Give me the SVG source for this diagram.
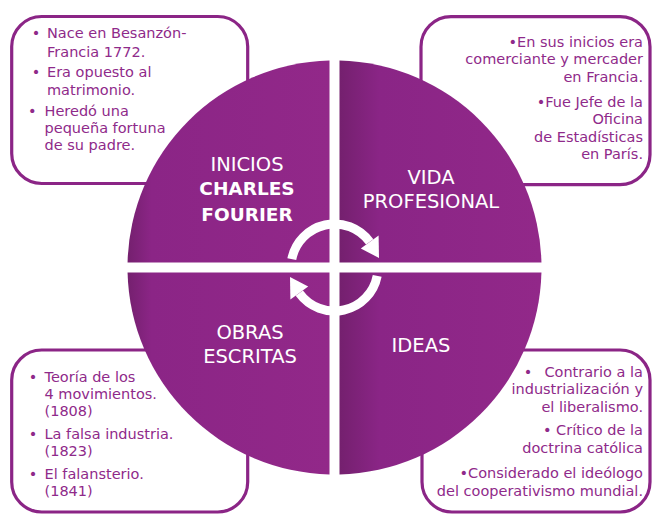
<svg xmlns="http://www.w3.org/2000/svg" width="652" height="515" viewBox="0 0 652 515">
<defs>
<linearGradient id="gL" gradientUnits="userSpaceOnUse" x1="127" y1="0" x2="330" y2="0">
<stop offset="0" stop-color="#74206e"/><stop offset="0.12" stop-color="#8b2586"/><stop offset="1" stop-color="#922889"/>
</linearGradient>
<linearGradient id="gR" gradientUnits="userSpaceOnUse" x1="339" y1="0" x2="542" y2="0">
<stop offset="0" stop-color="#74206e"/><stop offset="0.2" stop-color="#8a2586"/><stop offset="1" stop-color="#922889"/>
</linearGradient>
<style>
.box{fill:#fff;stroke:#8b2586;stroke-width:3.2}
.t{font-family:"DejaVu Sans","Noto Sans",sans-serif;font-size:14.5px;fill:#8f2a8a}
.r{text-anchor:end}
.c{font-family:"DejaVu Sans","Noto Sans",sans-serif;font-size:19.5px;fill:#fff;text-anchor:middle}
.b{font-weight:bold;font-size:18.5px}
.ring{fill:none;stroke:#fff;stroke-width:9}
</style>
</defs>
<g id="box-inicios">
<rect class="box" x="11.7" y="16.5" width="236" height="167" rx="30"/>
<text class="t" x="31.7" y="38">•</text><text class="t" x="47" y="38">Nace en Besanzón-</text>
<text class="t" x="47" y="57">Francia 1772.</text>
<text class="t" x="31.7" y="77">•</text><text class="t" x="47" y="77">Era opuesto al</text>
<text class="t" x="47" y="95">matrimonio.</text>
<text class="t" x="28" y="116">•</text><text class="t" x="44.5" y="116">Heredó una</text>
<text class="t" x="44.5" y="133">pequeña fortuna</text>
<text class="t" x="44.5" y="150">de su padre.</text>
</g>
<g id="box-vida">
<rect class="box" x="421" y="16.7" width="229" height="168" rx="30"/>
<text class="t r" x="643" y="46.5">•En sus inicios era</text>
<text class="t r" x="643" y="64">comerciante y mercader</text>
<text class="t r" x="643" y="82">en Francia.</text>
<text class="t r" x="643" y="107">•Fue Jefe de la</text>
<text class="t r" x="643" y="124">Oficina</text>
<text class="t r" x="643" y="142">de Estadísticas</text>
<text class="t r" x="643" y="159">en París.</text>
</g>
<g id="box-obras">
<rect class="box" x="11.7" y="350" width="236" height="162" rx="30"/>
<text class="t" x="28.7" y="382">•</text><text class="t" x="44.5" y="382">Teoría de los</text>
<text class="t" x="44.5" y="399">4 movimientos.</text>
<text class="t" x="44.5" y="416">(1808)</text>
<text class="t" x="28.7" y="439">•</text><text class="t" x="44.5" y="439">La falsa industria.</text>
<text class="t" x="44.5" y="456">(1823)</text>
<text class="t" x="28.7" y="479">•</text><text class="t" x="44.5" y="479">El falansterio.</text>
<text class="t" x="44.5" y="496">(1841)</text>
</g>
<g id="box-ideas">
<rect class="box" x="422" y="350" width="228" height="162" rx="30"/>
<text class="t" x="523.7" y="377">•</text><text class="t r" x="643" y="377">Contrario a la</text>
<text class="t r" x="643" y="394">industrialización y</text>
<text class="t r" x="643" y="412">el liberalismo.</text>
<text class="t r" x="643" y="435">• Crítico de la</text>
<text class="t r" x="643" y="453">doctrina católica</text>
<text class="t r" x="643" y="478">•Considerado el ideólogo</text>
<text class="t r" x="643" y="496">del cooperativismo mundial.</text>
</g>
<g id="circle">
<path d="M329.5,262.5 V60.56 A207,207 0 0 0 127.56,262.5 Z" fill="url(#gL)"/>
<path d="M339.5,262.5 H541.44 A207,207 0 0 0 339.5,60.56 Z" fill="url(#gR)"/>
<path d="M329.5,272.5 H127.56 A207,207 0 0 0 329.5,474.44 Z" fill="url(#gL)"/>
<path d="M339.5,272.5 V474.44 A207,207 0 0 0 541.44,272.5 Z" fill="url(#gR)"/>
</g>
<g id="node-inicios">
<text class="c" x="247" y="171">INICIOS</text>
<text class="c b" x="247" y="195">CHARLES</text>
<text class="c b" x="247" y="221">FOURIER</text>
</g>
<g id="node-vida">
<text class="c" x="431" y="184">VIDA</text>
<text class="c" x="431" y="208">PROFESIONAL</text>
</g>
<g id="node-obras">
<text class="c" x="250" y="339">OBRAS</text>
<text class="c" x="250" y="363">ESCRITAS</text>
</g>
<g id="node-ideas">
<text class="c" x="421" y="352">IDEAS</text>
</g>
<g id="connectors">
<path class="ring" d="M291.8,259.2 A43.5,43.5 0 0 1 369.7,241.9"/>
<polygon fill="#fff" points="378.6,235.4 360.8,248.4 379,258"/>
<path class="ring" d="M377.2,275.8 A43.5,43.5 0 0 1 299.3,293.1"/>
<polygon fill="#fff" points="290.4,299.6 308.2,286.6 290,277"/>
</g>
</svg>
